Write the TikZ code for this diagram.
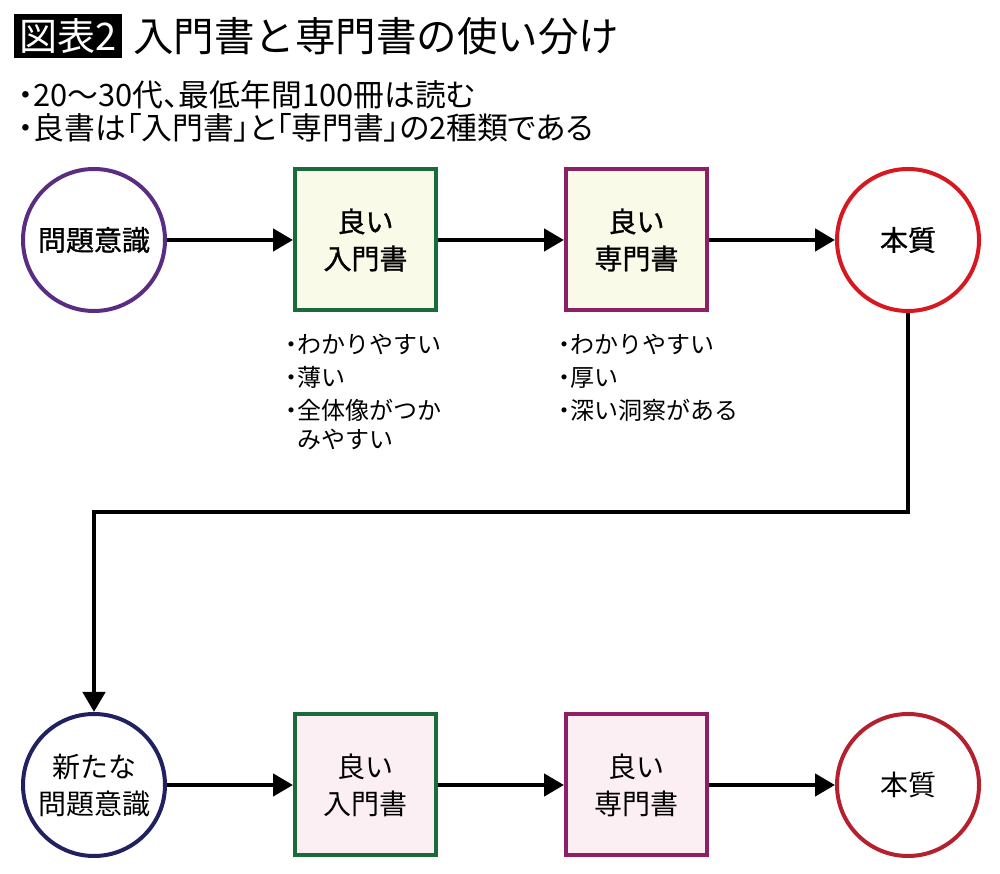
\documentclass[tikz,border=0pt]{standalone}
\usepackage{fontspec}
\setmainfont{Noto Sans CJK JP}
\newfontfamily\paltfont[RawFeature=+palt]{Noto Sans CJK JP}
\newfontfamily\medfont[FakeBold=1]{Noto Sans CJK JP}
\newcommand\pt{{\paltfont ・}}
\usetikzlibrary{positioning,arrows.meta}
\definecolor{ringpurple}{RGB}{90,45,130}
\definecolor{ringred}{RGB}{214,24,32}
\definecolor{ringnavy}{RGB}{32,33,94}
\definecolor{ringdark}{RGB}{180,32,46}
\definecolor{bookgreen}{RGB}{27,107,58}
\definecolor{bookplum}{RGB}{142,31,102}
\definecolor{fillcream}{RGB}{250,250,232}
\definecolor{fillpink}{RGB}{251,239,243}
\begin{document}
\begin{tikzpicture}[x=1pt,y=1pt,node distance=126pt,
    ring/.style={circle,draw,line width=4pt,minimum size=142pt,inner sep=0pt,
      align=center,font=\fontsize{28}{37}\selectfont},
    book/.style={rectangle,draw,line width=4pt,minimum size=141pt,inner sep=0pt,
      align=center,font=\fontsize{28}{37}\selectfont},
    arr/.style={line width=4.5pt,-{Triangle[length=20pt,width=22pt]}},
    note/.style={align=left,inner sep=0pt,font=\fontsize{24}{33}\selectfont}]
    \useasboundingbox (0,0) rectangle (1000,874);
    % heading
    \node[fill=black,text=white,minimum width=108pt,minimum height=44pt,inner sep=0pt,
      font=\fontsize{38}{38}\selectfont](tag) at (68,838){図表2};
    \node[inner sep=0pt,font=\fontsize{40.5}{40.5}\selectfont,right=11pt of tag](title){入門書と専門書の使い分け};
    \node[inner sep=0pt,anchor=west,font=\paltfont\fontsize{30.8}{31}\selectfont](head1) at (18,779){・20〜30代、最低年間100冊は読む};
    \node[inner sep=0pt,anchor=west,font=\paltfont\fontsize{30.8}{31}\selectfont](head2) at (18,746){・良書は「入門書」と「専門書」の2種類である};
    % first round
    \node[ring,draw=ringpurple,font=\medfont\fontsize{28}{37}\selectfont](q1) at (94,634){問題意識};
    \node[book,draw=bookgreen,fill=fillcream,font=\medfont\fontsize{28}{37}\selectfont,right=of q1](b1){良い\\入門書};
    \node[book,draw=bookplum,fill=fillcream,font=\medfont\fontsize{28}{37}\selectfont,right=of b1](b2){良い\\専門書};
    \node[ring,draw=ringred,font=\medfont\fontsize{28}{37}\selectfont,right=of b2](ess1){本質};
    \node[note,below=21pt of b1.south west,anchor=north west,xshift=-8pt](n1){\pt わかりやすい\\\pt 薄い\\\pt 全体像がつか\\[-4pt]\phantom{\pt}みやすい};
    \node[note,below=21pt of b2.south west,anchor=north west,xshift=-6pt](n2){\pt わかりやすい\\\pt 厚い\\\pt 深い洞察がある};
    % second round
    \node[ring,draw=ringnavy,below=399pt of q1](q3){新たな\\問題意識};
    \node[book,draw=bookgreen,fill=fillpink,right=of q3](b3){良い\\入門書};
    \node[book,draw=bookplum,fill=fillpink,right=of b3](b4){良い\\専門書};
    \node[ring,draw=ringdark,right=of b4](ess2){本質};
    \coordinate (turn) at (500,362);
    \draw[arr] (q1) -- (b1);
    \draw[arr] (b1) -- (b2);
    \draw[arr] (b2) -- (ess1);
    \draw[arr] (ess1.south) |- (turn) -| (q3.north);
    \draw[arr] (q3) -- (b3);
    \draw[arr] (b3) -- (b4);
    \draw[arr] (b4) -- (ess2);
\end{tikzpicture}
\end{document}
